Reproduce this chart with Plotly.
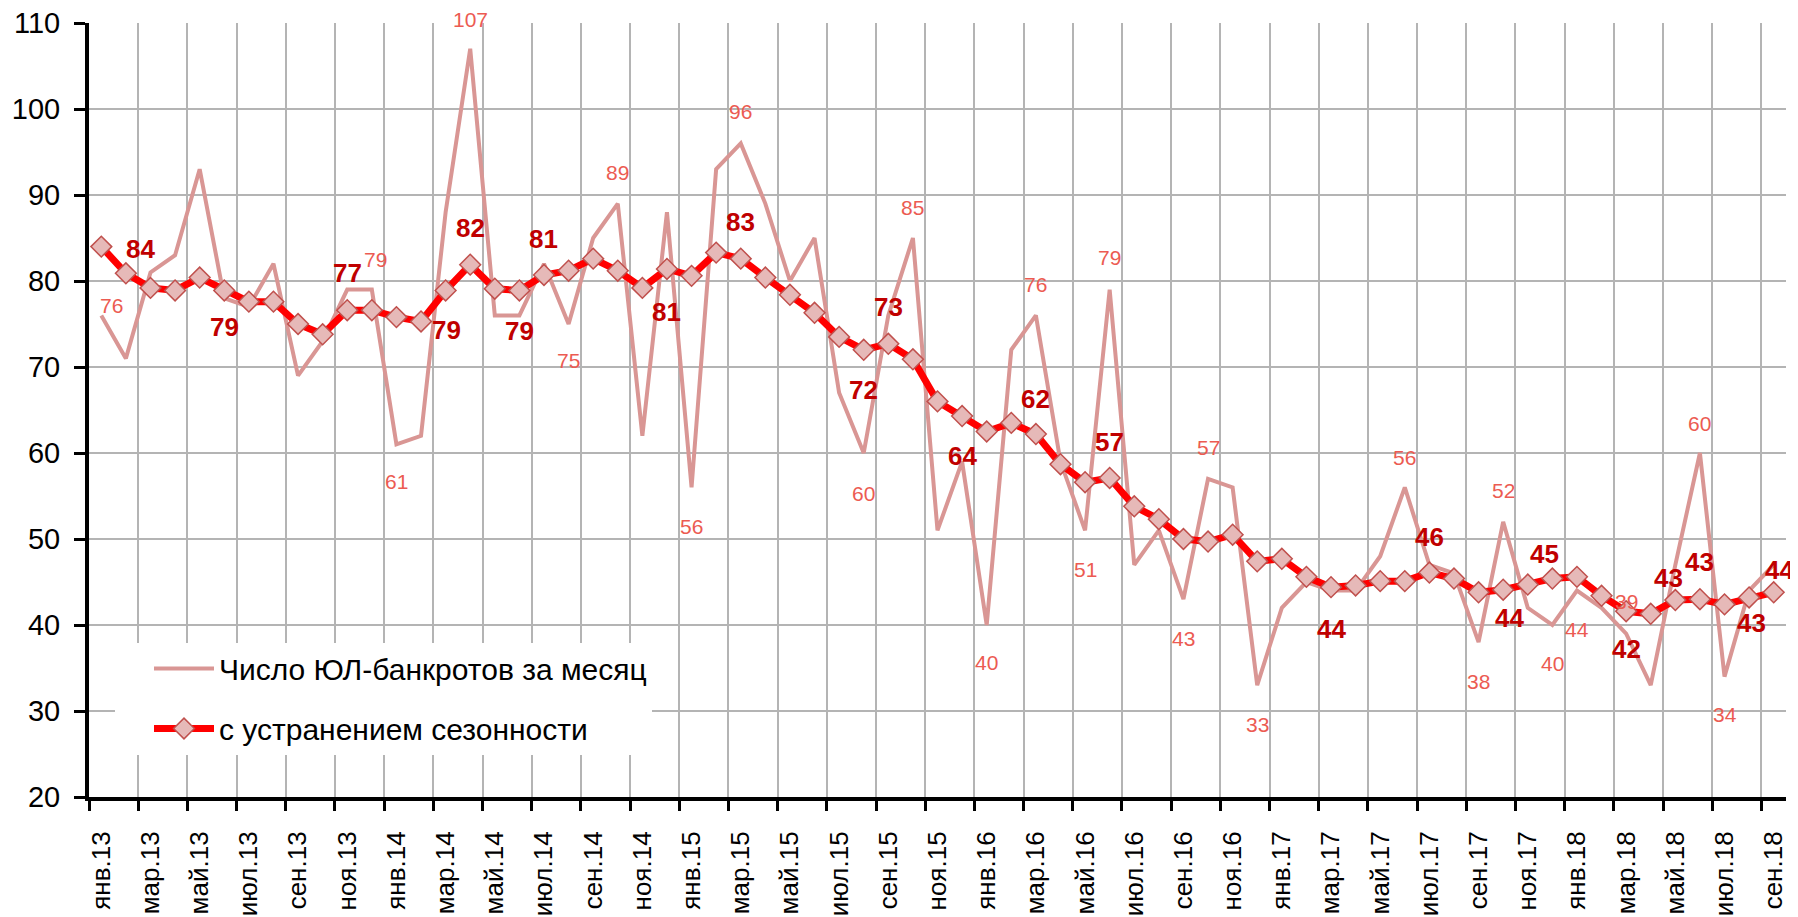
import plotly.graph_objects as go

# ---------------- data ----------------
MONTHS = ["янв", "фев", "мар", "апр", "май", "июн", "июл", "авг", "сен", "окт", "ноя", "дек"]
YEARS = ["13", "14", "15", "16", "17", "18"]
N_POINTS = 69  # январь 2013 – сентябрь 2018

month_labels = [f"{m}.{y}" for y in YEARS for m in MONTHS][:N_POINTS]

raw_count = [76, 71, 81, 83, 93, 78, 77, 82, 69, 73,
             79, 79, 61, 62, 88, 107, 76, 76, 82, 75,
             85, 89, 62, 88, 56, 93, 96, 89, 80, 85,
             67, 60, 76, 85, 51, 59, 40, 72, 76, 59,
             51, 79, 47, 51, 43, 57, 56, 33, 42, 45,
             44, 44, 48, 56, 47, 46, 38, 52, 42, 40,
             44, 42, 39, 33, 47, 60, 34, 44, 47]

seas_adj = [84.0, 80.9, 79.2, 78.9, 80.4, 78.9, 77.6, 77.6, 75.0, 73.8,
            76.6, 76.6, 75.8, 75.3, 78.9, 81.9, 79.1, 78.9, 80.7, 81.2,
            82.6, 81.2, 79.2, 81.4, 80.6, 83.3, 82.6, 80.4, 78.4, 76.3,
            73.5, 72.0, 72.7, 70.9, 66.0, 64.3, 62.5, 63.5, 62.2, 58.7,
            56.6, 57.1, 53.8, 52.3, 50.0, 49.7, 50.5, 47.4, 47.7, 45.6,
            44.4, 44.6, 45.1, 45.1, 46.1, 45.4, 43.8, 44.1, 44.7, 45.4,
            45.6, 43.4, 41.6, 41.3, 42.9, 43.0, 42.4, 43.2, 43.8]

series_names = ["Число ЮЛ-банкротов за месяц", "с устранением сезонности"]

# which points carry a value label, and where the label sits (pixel offsets dx, dy)
raw_label_idx = [0, 11, 12, 15, 19, 21, 24, 26, 31, 33, 36, 38, 40, 41, 44, 45, 47,
                 53, 56, 57, 59, 60, 62, 65, 66]
raw_label_off = [(10, -10), (4, -30), (0, 37), (0, -29), (0, 36), (0, -31), (0, 39),
                 (0, -32), (0, 40), (0, -31), (0, 37), (0, -31), (0, 39), (0, -32),
                 (0, 39), (0, -31), (0, 39), (0, -30), (0, 39), (0, -31), (0, 38),
                 (0, 39), (0, -32), (0, -30), (0, 38)]

sa_label_idx = [0, 5, 10, 14, 15, 17, 18, 23, 26, 31, 32, 35, 38, 41, 50, 54, 57, 59,
                62, 64, 65, 67, 68]
sa_label_off = [(39, 2), (0, 37), (0, -37), (1, 40), (0, -37), (0, 41), (0, -36),
                (0, 43), (0, -37), (0, 40), (0, -37), (0, 40), (0, -35), (0, -36),
                (0, 42), (0, -36), (6, 28), (-8, -25), (0, 38), (-7, -22), (0, -37),
                (2, 26), (6, -22)]

# ---------------- styling ----------------
FONT = "Liberation Sans, Arial, sans-serif"
RAW_COLOR = "#D99694"
SA_COLOR = "#FF0000"
RAW_LABEL_COLOR = "#EC5B52"
SA_LABEL_COLOR = "#C00000"
GRID = "#B4B4B4"

x = list(range(N_POINTS))

fig = go.Figure()
fig.add_trace(go.Scatter(
    x=x, y=raw_count, mode="lines", name=series_names[0],
    line=dict(color=RAW_COLOR, width=4),
    legendgroup="a",
))
fig.add_trace(go.Scatter(
    x=x, y=seas_adj, mode="lines+markers", name=series_names[1],
    line=dict(color=SA_COLOR, width=7),
    marker=dict(symbol="diamond", size=16, color="#E6B9B8",
                line=dict(color="#C0504D", width=1.5)),
    legendgroup="b",
))

annotations = []
for i, (dx, dy) in zip(raw_label_idx, raw_label_off):
    annotations.append(dict(
        x=x[i], y=raw_count[i], text=str(raw_count[i]), showarrow=False,
        xshift=dx, yshift=-dy, font=dict(family=FONT, size=21, color=RAW_LABEL_COLOR),
    ))
for i, (dx, dy) in zip(sa_label_idx, sa_label_off):
    annotations.append(dict(
        x=x[i], y=seas_adj[i], text=f"<b>{round(seas_adj[i])}</b>", showarrow=False,
        xshift=dx, yshift=-dy, font=dict(family=FONT, size=26, color=SA_LABEL_COLOR),
    ))

# the page body adds an 8px offset, so the figure is 8px smaller on each side
fig.update_layout(
    width=1790, height=909,
    margin=dict(l=81, r=12, t=15, b=120, autoexpand=False),
    paper_bgcolor="white", plot_bgcolor="white",
    showlegend=True,
    legend=dict(
        x=(115 - 89) / 1697, y=(797.5 - 643) / 774, xanchor="left", yanchor="top",
        bgcolor="white", borderwidth=0,
        font=dict(family=FONT, size=30, color="black"),
        traceorder="grouped", tracegroupgap=18,
        itemwidth=60, indentation=34,
    ),
    annotations=annotations,
)

fig.update_xaxes(
    range=[-0.5, N_POINTS - 0.5], automargin=False,
    tickmode="array", tickvals=x[::2], ticktext=month_labels[::2],
    tickangle=-90, ticks="outside", ticklen=20, tickcolor="rgba(0,0,0,0)",
    showgrid=False, ticklabeloverflow="allow",
    tickfont=dict(family=FONT, size=26, color="black"),
    showline=True, linecolor="black", linewidth=4,
    zeroline=False,
    minor=dict(tick0=-0.5, dtick=2, ticks="outside", ticklen=10, tickwidth=3,
               tickcolor="black", showgrid=True, gridcolor=GRID, gridwidth=1.5),
)
fig.update_yaxes(
    range=[20, 110], dtick=10, tick0=20, automargin=False,
    ticks="outside", ticklen=11, tickwidth=3, tickcolor="black",
    showgrid=True, gridcolor=GRID, gridwidth=1.5,
    tickfont=dict(family=FONT, size=29, color="black"),
    ticklabelstandoff=8, ticklabeloverflow="allow",
    showline=True, linecolor="black", linewidth=4,
    zeroline=False,
)

fig.write_html("out.html")
